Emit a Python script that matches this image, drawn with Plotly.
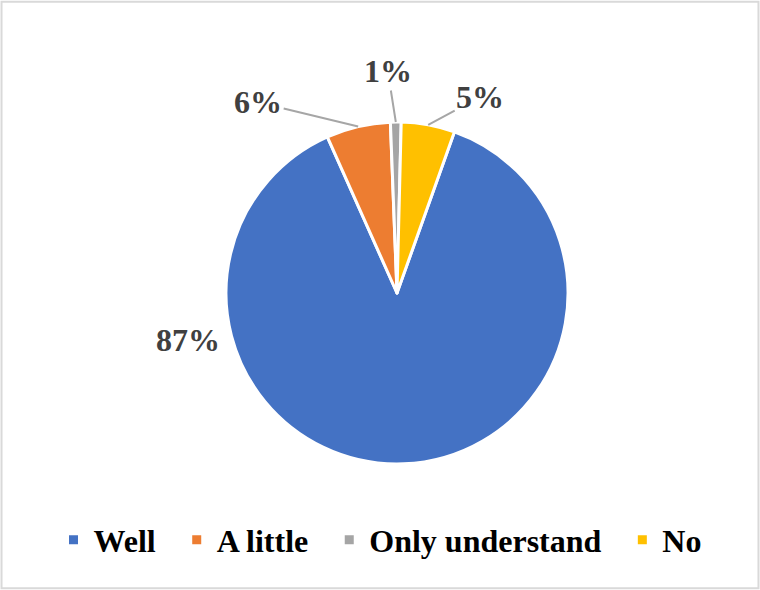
import math
import plotly.graph_objects as go

categories = ["Well", "A little", "Only understand", "No"]
values = [87, 6, 1, 5]
label_texts = ["87%", "6%", "1%", "5%"]
colors = ["#4472C4", "#ED7D31", "#A5A5A5", "#FFC000"]

W, H = 760, 590
CX, CY, R = 397, 293, 171
ROTATION = 19.6
SERIF = "Liberation Serif, Times New Roman, serif"

legend_names = ["<b>%s</b>" % c + ("&nbsp;&nbsp;" if i < len(categories) - 1 else "")
                for i, c in enumerate(categories)]

fig = go.Figure(go.Pie(
    labels=legend_names,
    values=values,
    sort=False,
    direction="clockwise",
    rotation=ROTATION,
    marker=dict(colors=colors, line=dict(color="white", width=3)),
    textinfo="none",
    hoverinfo="label+percent",
    domain=dict(x=[(CX - R) / W, (CX + R) / W], y=[1 - (CY + R) / H, 1 - (CY - R) / H]),
    showlegend=True,
))

# label placement: offset (px) of text centre from slice edge point, or free centre for Well
offsets = [None, (-100, -24), (-8, -51), (52, -28)]
free_pos = {0: (188, 340)}

total = sum(values)
cum = 0
annotations = []
for i, v in enumerate(values):
    mid = ROTATION + (cum + v / 2) / total * 360
    cum += v
    a = math.radians(mid)
    px = CX + R * math.sin(a)
    py = CY - R * math.cos(a)
    font = dict(family=SERIF, size=32, color="#404040")
    if offsets[i] is None:
        fx, fy = free_pos[i]
        annotations.append(dict(x=fx / W, y=1 - fy / H, xref="paper", yref="paper",
                                xanchor="center", yanchor="middle",
                                text="<b>%s</b>" % label_texts[i], showarrow=False, font=font))
    else:
        ax, ay = offsets[i]
        annotations.append(dict(x=px / W, y=1 - py / H, xref="paper", yref="paper",
                                text="<b>%s</b>" % label_texts[i], showarrow=True,
                                ax=ax, ay=ay, arrowhead=0, arrowwidth=2,
                                arrowcolor="#A6A6A6", standoff=0, font=font))

fig.update_layout(
    width=W, height=H,
    margin=dict(l=0, r=0, t=0, b=0),
    paper_bgcolor="white",
    font=dict(family=SERIF),
    annotations=annotations,
    legend=dict(orientation="h", x=0.5, xanchor="center", y=1 - 540 / H, yanchor="middle",
                font=dict(family=SERIF, size=32, color="#000000"),
                itemclick=False),
    shapes=[dict(type="rect", xref="paper", yref="paper", x0=0.002, y0=0.003, x1=0.998, y1=0.997,
                 line=dict(color="#D9D9D9", width=2))],
)

fig.write_html("out.html", config={"displayModeBar": False},
               post_script="document.body.style.margin='0';document.body.style.padding='0';")
